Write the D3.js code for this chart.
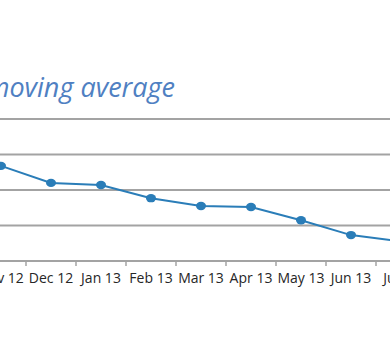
<!DOCTYPE html>
<html>
<head>
<meta charset="utf-8">
<script src="https://cdn.jsdelivr.net/npm/d3@7"></script>
<style>
  html, body { margin: 0; padding: 0; background: #fff; }
  svg { display: block; }
</style>
</head>
<body>
<svg id="chart" width="390" height="360"></svg>
<script>
const titleText = "moving average";
const categories = ["Nov 12", "Dec 12", "Jan 13", "Feb 13", "Mar 13", "Apr 13", "May 13", "Jun 13", "Jul 13"];
const values = [2.68, 2.20, 2.14, 1.77, 1.55, 1.52, 1.15, 0.73, 0.55];
const gridValues = [1, 2, 3, 4];

const svg = d3.select("#chart");
const W = 390, H = 360;

// plot is wider than the window: the reference is a crop of a larger chart
const x = d3.scaleBand().domain(categories).range([-24, 426]).paddingInner(0).paddingOuter(0);
const y = d3.scaleLinear().domain([0, 4]).range([261, 119]);

// title
svg.append("text")
  .attr("x", 175).attr("y", 97)
  .attr("text-anchor", "end")
  .attr("font-family", "'Open Sans', 'DejaVu Sans', sans-serif")
  .attr("font-style", "italic")
  .attr("font-size", 27)
  .attr("fill", "#4F80C2")
  .text(titleText);

// gridlines
svg.append("g")
  .selectAll("line")
  .data(gridValues)
  .join("line")
  .attr("x1", 0).attr("x2", W)
  .attr("y1", d => y(d)).attr("y2", d => y(d))
  .attr("stroke", "#A3A3A3")
  .attr("stroke-width", 2);

// x axis
const xAxis = d3.axisBottom(x).tickSize(0).tickPadding(12);
const gx = svg.append("g").attr("transform", `translate(0,${y(0)})`).call(xAxis);
gx.select(".domain").remove();
gx.selectAll("text")
  .attr("font-family", "'Open Sans', 'Liberation Sans', sans-serif")
  .attr("font-size", 14)
  .attr("fill", "#262626");
svg.append("line")
  .attr("x1", 0).attr("x2", W)
  .attr("y1", y(0)).attr("y2", y(0))
  .attr("stroke", "#A3A3A3").attr("stroke-width", 2);
// tick marks at category boundaries
const boundaries = categories.map(c => x(c)).concat([x(categories[categories.length - 1]) + x.bandwidth()]);
svg.append("g")
  .selectAll("line")
  .data(boundaries)
  .join("line")
  .attr("x1", d => d).attr("x2", d => d)
  .attr("y1", y(0)).attr("y2", y(0) + 5)
  .attr("stroke", "#A3A3A3").attr("stroke-width", 1.5);

// line
const cx = (d, i) => x(categories[i]) + x.bandwidth() / 2;
const line = d3.line().x((d, i) => cx(d, i)).y(d => y(d));
svg.append("path")
  .datum(values)
  .attr("d", line)
  .attr("fill", "none")
  .attr("stroke", "#2A7DB8")
  .attr("stroke-width", 2);

svg.append("g")
  .selectAll("ellipse")
  .data(values)
  .join("ellipse")
  .attr("cx", (d, i) => cx(d, i))
  .attr("cy", d => y(d))
  .attr("rx", 5)
  .attr("ry", 4.2)
  .attr("fill", "#2A7DB8");
</script>
</body>
</html>
